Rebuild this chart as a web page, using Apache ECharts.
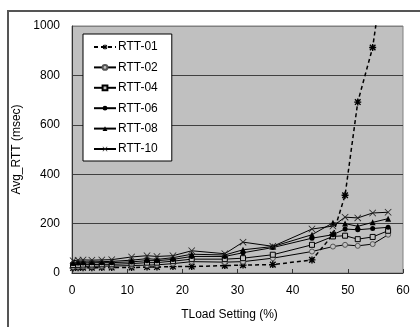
<!DOCTYPE html>
<html>
<head>
<meta charset="utf-8">
<script src="https://cdn.jsdelivr.net/npm/echarts@6/dist/echarts.min.js"></script>
<style>
html,body{margin:0;padding:0;background:#fff;}
#c{width:420px;height:327px;}
</style>
</head>
<body>
<div id="c"></div>
<script>
var seriesNames = ['RTT-01','RTT-02','RTT-04','RTT-06','RTT-08','RTT-10'];
var tload = [0.2, 1.1, 2.0, 3.6, 5.4, 7.2, 10.8, 13.6, 15.4, 18.3, 21.7, 27.7, 31.0, 36.4, 43.5, 47.3, 49.5, 51.8, 54.5, 57.3];
var rtt01 = [20, 21, 21, 21, 22, 22, 22, 24, 24, 26, 26, 30, 32, 34, 53, 155, 315, 692, 913, 1350];
var rtt02 = [25, 26, 27, 27, 28, 28, 30, 32, 33, 38, 46, 44, 46, 60, 87, 107, 114, 110, 117, 155];
var rtt04 = [32, 33, 34, 34, 35, 35, 38, 42, 42, 48, 56, 56, 60, 74, 114, 148, 151, 137, 146, 171];
var rtt06 = [38, 40, 40, 41, 42, 42, 45, 50, 50, 55, 67, 67, 82, 103, 141, 155, 178, 175, 180, 185];
var rtt08 = [42, 44, 45, 45, 46, 47, 52, 58, 55, 62, 76, 73, 94, 107, 155, 203, 200, 189, 205, 220];
var rtt10 = [50, 52, 53, 52, 53, 54, 65, 70, 67, 70, 90, 78, 125, 108, 178, 190, 226, 223, 243, 246];
var xTicks = [0, 10, 20, 30, 40, 50, 60];
var yTicks = [0, 200, 400, 600, 800, 1000];

function pairs(ys){ return tload.map(function(x,i){ return [x, ys[i]]; }); }

var starPath = 'path://M4,0L6,0L6,10L4,10Z M0.3,1.7L1.7,0.3L9.7,8.3L8.3,9.7Z M8.3,0.3L9.7,1.7L1.7,9.7L0.3,8.3Z M0,4L10,4L10,6L0,6Z';
var crossPath = 'path://M0,0.8L0.8,0L10,9.2L9.2,10Z M9.2,0L10,0.8L0.8,10L0,9.2Z';
var FONT = 'Liberation Sans';

function mk(name, ys, symbol, size, itemStyle, lineStyle){
  return {
    name: name, type: 'line', data: pairs(ys),
    symbol: symbol, symbolSize: size, showAllSymbol: true,
    itemStyle: itemStyle,
    lineStyle: lineStyle || {color:'#000', width:1},
    emphasis: {disabled:true}, animation:false, clip:true, z: 3
  };
}

var series = [
  mk(seriesNames[0], rtt01, starPath, 7, {color:'#000'}, {color:'#000', width:1.5, type:[4,3]}),
  mk(seriesNames[1], rtt02, 'circle', 5, {color:'#c0c0c0', borderColor:'#555', borderWidth:1}),
  mk(seriesNames[2], rtt04, 'rect', 5, {color:'#c0c0c0', borderColor:'#000', borderWidth:1}),
  mk(seriesNames[3], rtt06, 'circle', 5, {color:'#000'}),
  mk(seriesNames[4], rtt08, 'triangle', 6, {color:'#000'}),
  mk(seriesNames[5], rtt10, crossPath, 7, {color:'#222'})
];

var chart = echarts.init(document.getElementById('c'), null, {renderer:'canvas'});
chart.setOption({
  animation: false,
  backgroundColor: '#fff',
  textStyle: {fontFamily: FONT},
  graphic: [{
    type:'rect', shape:{x:8, y:11, width:440, height:340},
    style:{fill:'none', stroke:'#555', lineWidth:2}, z:-10, silent:true
  }],
  grid: {left:72, right:17, top:26, bottom:54, show:true, backgroundColor:'#c0c0c0', borderColor:'#808080', borderWidth:1},
  legend: {
    orient:'vertical', left:83, top:34,
    data: seriesNames,
    itemWidth:22, itemHeight:6, itemGap:8.4,
    padding:[7,14,6,10],
    backgroundColor:'#fff', borderColor:'#000', borderWidth:1,
    textStyle:{fontFamily:FONT, fontSize:12, color:'#000', padding:[0,0,0,-3]},
    selectedMode:false
  },
  xAxis: {
    type:'value', min:xTicks[0], max:xTicks[xTicks.length-1], interval:10,
    name:'TLoad Setting (%)', nameLocation:'middle', nameGap:36,
    nameTextStyle:{fontFamily:FONT, fontSize:12, color:'#000', padding:[0,16,0,0]},
    axisLine:{show:true, lineStyle:{color:'#333', width:1}},
    axisTick:{show:true, inside:true, length:4, lineStyle:{color:'#333'}},
    axisLabel:{fontFamily:FONT, fontSize:12, color:'#000', margin:12},
    splitLine:{show:false}
  },
  yAxis: {
    type:'value', min:yTicks[0], max:yTicks[yTicks.length-1], interval:200,
    name:'Avg_RTT (msec)', nameLocation:'middle', nameGap:44, nameRotate:90,
    nameTextStyle:{fontFamily:FONT, fontSize:12, color:'#000'},
    axisLine:{show:true, lineStyle:{color:'#333', width:1}},
    axisTick:{show:false},
    axisLabel:{fontFamily:FONT, fontSize:12, color:'#000', margin:12, formatter:function(v){ return String(v); }},
    splitLine:{show:true, lineStyle:{color:['#404040','#404040','#404040','#404040','#404040','#808080'], width:1}}
  },
  series: series
});
</script>
</body>
</html>
